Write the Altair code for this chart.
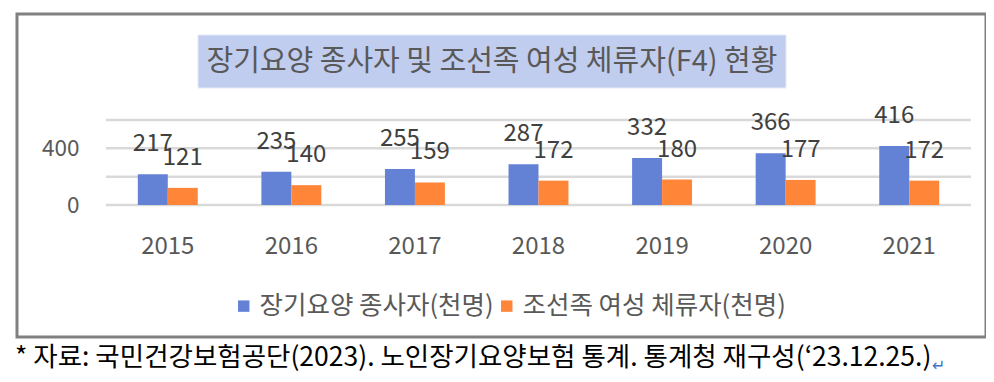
import altair as alt
import pandas as pd

years = ["2015", "2016", "2017", "2018", "2019", "2020", "2021"]
workers = [217, 235, 255, 287, 332, 366, 416]
f4_women = [121, 140, 159, 172, 180, 177, 172]
series_names = ["장기요양 종사자(천명)", "조선족 여성 체류자(천명)"]
series_colors = ["#6381D5", "#FF8538"]
grid_values = [0, 200, 400, 600]
label_values = [0, 400]
title_text = "장기요양 종사자 및 조선족 여성 체류자(F4) 현황"
footer_text = "* 자료: 국민건강보험공단(2023). 노인장기요양보험 통계. 통계청 재구성(‘23.12.25.)"

rows = []
for y, a, b in zip(years, workers, f4_women):
    rows.append({"year": y, "series": series_names[0], "value": a})
    rows.append({"year": y, "series": series_names[1], "value": b})
df = pd.DataFrame(rows)
grid_df = pd.DataFrame({"value": grid_values})
one = pd.DataFrame({"k": [0]})

W, H = 865, 85
KFONT = "Noto Sans CJK KR"

x_axis = alt.Axis(title=None, labelAngle=0, domain=False, ticks=False,
                  labelPadding=29, labelFontSize=24, labelColor="#595959",
                  labelFont=KFONT)
x_scale = alt.Scale(paddingInner=0.515, paddingOuter=0.2575)
y_scale = alt.Scale(domain=[0, 600], nice=False)
y_axis = alt.Axis(title=None, values=label_values, domain=False, grid=False,
                  ticks=False, labelPadding=27, labelFontSize=22.5,
                  labelColor="#595959", labelFont=KFONT, labelOverlap=False)

xoff = alt.XOffset("series:N", sort=series_names,
                   scale=alt.Scale(paddingInner=0, paddingOuter=0))

grid = alt.Chart(grid_df).mark_rule(color="#D9D9D9", strokeWidth=2.5).encode(
    y=alt.Y("value:Q", scale=y_scale, axis=y_axis),
    x=alt.value(0), x2=alt.value(W),
)

bars = alt.Chart(df).mark_bar().encode(
    x=alt.X("year:O", sort=years, scale=x_scale, axis=x_axis),
    xOffset=xoff,
    y=alt.Y("value:Q", scale=y_scale, axis=y_axis),
    color=alt.Color("series:N", sort=series_names,
                    scale=alt.Scale(domain=series_names, range=series_colors),
                    legend=alt.Legend(title=None, orient="none", direction="horizontal",
                                      legendX=125, legendY=173, padding=0,
                                      symbolType="square", symbolSize=130,
                                      symbolStrokeWidth=0, symbolOpacity=1,
                                      labelFontSize=25.5, labelColor="#595959",
                                      labelFont=KFONT, labelOffset=3,
                                      columnPadding=-8, labelLimit=400)),
)

labels = alt.Chart(df).mark_text(fontSize=24, font=KFONT, color="#404040",
                                 baseline="middle", dy=-30).encode(
    x=alt.X("year:O", sort=years, scale=x_scale, axis=x_axis),
    xOffset=xoff,
    y=alt.Y("value:Q", scale=y_scale, axis=y_axis),
    text="value:Q",
)

frame = alt.Chart(one).mark_rect(fillOpacity=0, stroke="#808080", strokeWidth=3).encode(
    x=alt.value(-89), x2=alt.value(880), y=alt.value(-106), y2=alt.value(217)
)
title_box = alt.Chart(one).mark_rect(fill="#C1CDEE", stroke="#E4E9F7", strokeWidth=1).encode(
    x=alt.value(92), x2=alt.value(680), y=alt.value(-85), y2=alt.value(-32)
)
title = alt.Chart(one).mark_text(text=title_text, fontSize=29, font=KFONT,
                                 color="#595959", align="center", baseline="middle").encode(
    x=alt.value(386), y=alt.value(-58)
)
footer = alt.Chart(one).mark_text(text=footer_text, fontSize=26.5, font=KFONT,
                                  color="#000000", align="left", baseline="middle").encode(
    x=alt.value(-91), y=alt.value(238)
)
ret = alt.Chart(one).mark_text(text="↵", fontSize=16, font="DejaVu Sans",
                               color="#4472C4", align="left", baseline="middle").encode(
    x=alt.value(826), y=alt.value(246)
)

chart = alt.layer(frame, title_box, title, grid, bars, labels, footer, ret).properties(
    width=W, height=H,
    autosize=alt.AutoSizeParams(type="none"),
    padding={"left": 98, "top": 112, "right": 15, "bottom": 175},
).configure_view(stroke=None)

chart.save("out.html", embed_options={"renderer": "svg", "actions": False})
